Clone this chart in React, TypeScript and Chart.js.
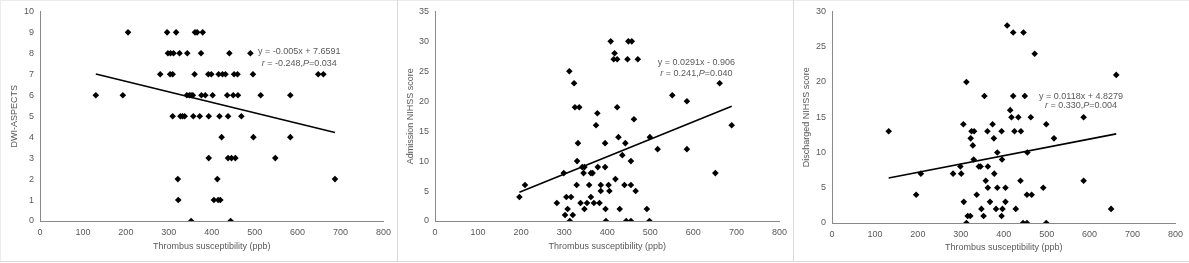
import React, { useEffect, useRef } from "react";
import { Chart, registerables } from "chart.js";

Chart.register(...registerables);

// ---------- shared axis settings ----------
const X_MIN = 0;
const X_MAX = 800;
const X_STEP = 100;
const X_TITLE = "Thrombus susceptibility (ppb)";

// ---------- Panel 1: DWI-ASPECTS ----------
const aspectsX = [
  205, 296, 317, 361, 366, 379,
  298, 304, 311, 325, 343, 375, 441, 490,
  280, 303, 309, 360, 392, 399, 416, 425, 432, 452, 460, 496, 648, 660,
  130, 193, 342, 348, 352, 356, 376, 385, 402, 436, 450, 461, 514, 583,
  309, 327, 332, 337, 357, 372, 393, 418, 438, 469,
  423, 497, 583,
  393, 438, 446, 455, 548,
  321, 413, 687,
  322, 405, 415, 420,
  352, 444,
];
const aspectsY = [
  9, 9, 9, 9, 9, 9,
  8, 8, 8, 8, 8, 8, 8, 8,
  7, 7, 7, 7, 7, 7, 7, 7, 7, 7, 7, 7, 7, 7,
  6, 6, 6, 6, 6, 6, 6, 6, 6, 6, 6, 6, 6, 6,
  5, 5, 5, 5, 5, 5, 5, 5, 5, 5,
  4, 4, 4,
  3, 3, 3, 3, 3,
  2, 2, 2,
  1, 1, 1, 1,
  0, 0,
];

// ---------- Panel 2: Admission NIHSS ----------
const admissionX = [
  196, 209, 283, 299, 302, 308, 305, 316, 313, 312, 320, 323, 325, 330, 329, 332,
  338, 342, 347, 345, 347, 353, 335, 358, 362, 366, 362, 369, 374, 377, 378, 382,
  385, 385, 396, 395, 395, 397, 403, 405, 408, 419, 417, 415, 423, 423, 426, 429,
  435, 440, 442, 444, 447, 449, 457, 455, 455, 455, 462, 466, 471, 492, 498, 499,
  517, 551, 585, 585, 651, 661, 689,
];
const admissionY = [
  4, 6, 3, 8, 1, 2, 4, 4, 0, 25, 1, 23, 19, 10, 6, 13,
  3, 9, 9, 8, 2, 3, 19, 6, 8, 8, 4, 3, 16, 18, 9, 3,
  6, 5, 2, 9, 13, 0, 6, 5, 30, 7, 28, 27, 27, 19, 14, 2,
  11, 6, 13, 0, 27, 30, 30, 0, 6, 10, 17, 5, 27, 2, 0, 14,
  12, 21, 20, 12, 8, 23, 16,
];

// ---------- Panel 3: Discharged NIHSS ----------
const dischargeX = [
  132, 196, 207, 282, 299, 301, 306, 307, 313, 313, 316, 322, 323, 325, 331, 328,
  330, 337, 342, 346, 348, 353, 355, 358, 362, 363, 363, 368, 374, 377, 378, 382,
  385, 385, 395, 395, 396, 397, 404, 404, 408, 415, 418, 422, 422, 425, 428, 434,
  439, 440, 445, 446, 449, 454, 454, 455, 465, 463, 472, 492, 499, 499, 517, 586,
  586, 650, 662,
];
const dischargeY = [
  13, 4, 7, 7, 8, 7, 14, 3, 20, 0, 1, 1, 12, 13, 13, 11,
  9, 4, 8, 8, 2, 1, 18, 6, 13, 5, 8, 3, 14, 12, 7, 2,
  10, 5, 13, 1, 9, 2, 3, 5, 28, 16, 15, 27, 18, 13, 2, 15,
  6, 13, 0, 27, 18, 0, 4, 10, 4, 15, 24, 5, 14, 0, 12, 15,
  6, 2, 21,
];

// ---------- regression labels (as printed) ----------
const eqAspects = { slope: -0.005, intercept: 7.6591 };
const eqAdmission = { slope: 0.0291, intercept: -0.906 };
const eqDischarge = { slope: 0.0118, intercept: 4.8279 };

type Seg = { t: string; i?: boolean };

const FONT = '"Liberation Sans", Arial, Helvetica, sans-serif';
const TEXT = "#595959";
const AXIS = "#898989";
const FS = 9;

type Panel = {
  xs: number[];
  ys: number[];
  yMax: number;
  yStep: number;
  yTitle: string;
  eq: { slope: number; intercept: number };
  lines: Seg[][];
  labelX: number;
  labelY: number[];
  left: number;
  width: number;
  yAxisW: number;
  padRight: number;
  padTop: number;
  xAxisH: number;
  yTitlePad: number;
  xTitlePad: number;
};

const panels: Panel[] = [
  {
    xs: aspectsX,
    ys: aspectsY,
    yMax: 10,
    yStep: 1,
    yTitle: "DWI-ASPECTS",
    eq: eqAspects,
    lines: [
      [{ t: "y = -0.005x + 7.6591" }],
      [{ t: "r", i: true }, { t: " = -0.248," }, { t: "P", i: true }, { t: "=0.034" }],
    ],
    labelX: 604,
    labelY: [8.07, 7.52],
    left: 0,
    width: 397,
    yAxisW: 40,
    padRight: 10,
    padTop: 10,
    xAxisH: 42,
    yTitlePad: 9.6,
    xTitlePad: 10.6,
  },
  {
    xs: admissionX,
    ys: admissionY,
    yMax: 35,
    yStep: 5,
    yTitle: "Admission NIHSS score",
    eq: eqAdmission,
    lines: [
      [{ t: "y = 0.0291x - 0.906" }],
      [{ t: "r", i: true }, { t: " = 0.241," }, { t: "P", i: true }, { t: "=0.040" }],
    ],
    labelX: 607,
    labelY: [26.5, 24.6],
    left: 398,
    width: 395,
    yAxisW: 37,
    padRight: 11,
    padTop: 10,
    xAxisH: 42,
    yTitlePad: 7.6,
    xTitlePad: 10.6,
  },
  {
    xs: dischargeX,
    ys: dischargeY,
    yMax: 30,
    yStep: 5,
    yTitle: "Discharged NIHSS score",
    eq: eqDischarge,
    lines: [
      [{ t: "y = 0.0118x + 4.8279" }],
      [{ t: "r", i: true }, { t: " = 0.330," }, { t: "P", i: true }, { t: "=0.004" }],
    ],
    labelX: 580,
    labelY: [18.0, 16.65],
    left: 794,
    width: 395,
    yAxisW: 38,
    padRight: 11,
    padTop: 9.3,
    xAxisH: 40,
    yTitlePad: 7.6,
    xTitlePad: 9.6,
  },
];

function PanelChart({ p }: { p: Panel }) {
  const ref = useRef<HTMLCanvasElement | null>(null);
  useEffect(() => {
    if (!ref.current) return;
    const pts = p.xs.map((x, i) => ({ x, y: p.ys[i] }));
    const minX = Math.min(...p.xs);
    const maxX = Math.max(...p.xs);
    const trend = [
      { x: minX, y: p.eq.slope * minX + p.eq.intercept },
      { x: maxX, y: p.eq.slope * maxX + p.eq.intercept },
    ];
    const eqPlugin = {
      id: "eqLabel",
      afterDatasetsDraw(chart: any) {
        const ctx = chart.ctx;
        const xs = chart.scales.x;
        const ys = chart.scales.y;
        const cx = xs.getPixelForValue(p.labelX);
        ctx.save();
        ctx.fillStyle = TEXT;
        ctx.textBaseline = "middle";
        ctx.textAlign = "left";
        p.lines.forEach((segs, li) => {
          const py = ys.getPixelForValue(p.labelY[li]);
          const widths = segs.map((s) => {
            ctx.font = `${s.i ? "italic " : ""}${FS}px ${FONT}`;
            return ctx.measureText(s.t).width;
          });
          const total = widths.reduce((a, b) => a + b, 0);
          let x = cx - total / 2;
          segs.forEach((s, si) => {
            ctx.font = `${s.i ? "italic " : ""}${FS}px ${FONT}`;
            ctx.fillText(s.t, x, py);
            x += widths[si];
          });
        });
        ctx.restore();
      },
    };
    const chart = new Chart(ref.current, {
      type: "scatter",
      data: {
        datasets: [
          {
            type: "line",
            data: trend,
            showLine: true,
            borderColor: "#000000",
            borderWidth: 1.6,
            pointRadius: 0,
            fill: false,
          } as any,
          {
            data: pts,
            pointStyle: "rectRot",
            pointRadius: 3.3,
            backgroundColor: "#000000",
            borderColor: "#000000",
            borderWidth: 0,
          },
        ],
      },
      options: {
        animation: false,
        responsive: false,
        devicePixelRatio: 1,
        layout: { padding: { top: p.padTop, right: p.padRight, left: 0, bottom: 0 } },
        plugins: {
          legend: { display: false },
          tooltip: { enabled: false },
        },
        scales: {
          x: {
            type: "linear",
            min: X_MIN,
            max: X_MAX,
            grid: { display: false, drawTicks: false },
            border: { display: true, color: AXIS, width: 1 },
            ticks: {
              stepSize: X_STEP,
              color: TEXT,
              padding: 6,
              maxRotation: 0,
              font: { family: FONT, size: FS },
            },
            title: {
              display: true,
              text: X_TITLE,
              color: TEXT,
              font: { family: FONT, size: FS },
              padding: { top: 0, bottom: p.xTitlePad },
            },
            afterFit: (s: any) => {
              s.height = p.xAxisH;
            },
          },
          y: {
            type: "linear",
            min: 0,
            max: p.yMax,
            grid: { display: false, drawTicks: false },
            border: { display: true, color: AXIS, width: 1 },
            ticks: {
              stepSize: p.yStep,
              color: TEXT,
              padding: 6,
              font: { family: FONT, size: FS },
            },
            title: {
              display: true,
              text: p.yTitle,
              color: TEXT,
              font: { family: FONT, size: FS },
              padding: { top: p.yTitlePad, bottom: 0 },
            },
            afterFit: (s: any) => {
              s.width = p.yAxisW;
            },
          },
        },
      },
      plugins: [eqPlugin],
    } as any);
    return () => chart.destroy();
  }, [p]);
  return (
    <canvas
      ref={ref}
      width={p.width}
      height={263}
      style={{ position: "absolute", left: p.left, top: 0, width: p.width, height: 263 }}
    />
  );
}

export default function App() {
  const line = "#d9d9d9";
  return (
    <div
      style={{
        position: "absolute",
        left: 0,
        top: 0,
        width: 1189,
        height: 263,
        background: "#ffffff",
        overflow: "hidden",
      }}
    >
      {panels.map((p, i) => (
        <PanelChart key={i} p={p} />
      ))}
      <div style={{ position: "absolute", left: 0, top: 0, width: 1189, height: 1, background: "#ececec" }} />
      <div style={{ position: "absolute", left: 0, top: 0, width: 1, height: 262, background: "#ececec" }} />
      <div style={{ position: "absolute", left: 397, top: 0, width: 1, height: 262, background: line }} />
      <div style={{ position: "absolute", left: 793, top: 0, width: 1, height: 262, background: line }} />
      <div style={{ position: "absolute", left: 0, top: 261, width: 1189, height: 1, background: line }} />
    </div>
  );
}
